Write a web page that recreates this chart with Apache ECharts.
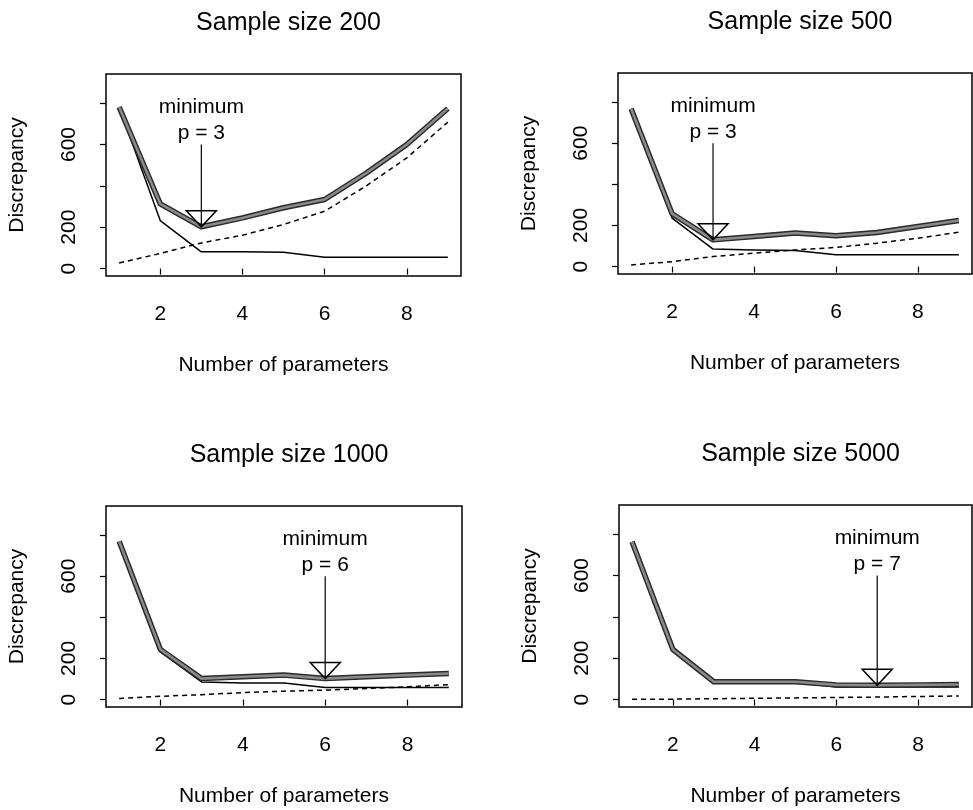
<!DOCTYPE html>
<html>
<head>
    <meta charset="UTF-8">
    <title>Discrepancy vs number of parameters</title>
    <script src="https://cdn.jsdelivr.net/npm/echarts@6/dist/echarts.min.js"></script>
    <style>
        body { margin: 0; background: #fff; }
    </style>
</head>
<body>
    <div id="chart" style="width:973px; height:810px;"></div>
    <script>
        // number of parameters (x)
        var params = [1, 2, 3, 4, 5, 6, 7, 8, 9];
        var sampleSizes = [200, 500, 1000, 5000];

        // overall discrepancy (thick line)
        var overall200 = [781, 313, 202, 245, 294, 334, 460, 600, 774];
        var overall500 = [767, 257, 130, 146, 163, 150, 166, 195, 224];
        var overall1000 = [769, 244, 102, 111, 119, 102, 111, 119, 127];
        var overall5000 = [763, 242, 86, 86, 86, 71, 69, 71, 73];

        // discrepancy due to approximation (thin solid line)
        var approx200 = [781, 232, 81, 81, 79, 55, 55, 55, 55];
        var approx500 = [767, 236, 85, 81, 78, 57, 57, 57, 57];
        var approx1000 = [769, 232, 86, 81, 81, 59, 59, 59, 59];
        var approx5000 = [763, 239, 81, 81, 81, 61, 61, 61, 61];

        // discrepancy due to estimation (dashed line)
        var estim200 = [27, 73, 124, 161, 213, 277, 398, 535, 708];
        var estim500 = [8, 24, 49, 65, 81, 93, 114, 138, 167];
        var estim1000 = [5, 16, 24, 34, 41, 46, 54, 62, 73];
        var estim5000 = [1, 2, 4, 6, 8, 10, 12, 15, 17];

        // p at the minimum of the overall discrepancy
        var minP = [3, 3, 6, 7];

        var xTicks = [2, 4, 6, 8];
        var yTicks = [0, 200, 400, 600, 800];
        var yLabels = [0, 200, 600];

        var overall = [overall200, overall500, overall1000, overall5000];
        var approx = [approx200, approx500, approx1000, approx5000];
        var estim = [estim200, estim500, estim1000, estim5000];

        var FONT = '"Liberation Sans", Arial, Helvetica, sans-serif';

        var grids = [
            {left: 106, top: 74, width: 355, height: 202},
            {left: 618, top: 73, width: 354, height: 201},
            {left: 106, top: 506, width: 356, height: 201},
            {left: 619, top: 505, width: 353, height: 202}
        ];

        function pairs(ys) {
            return params.map(function (x, i) { return [x, ys[i]]; });
        }

        var titles = [], xAxes = [], yAxes = [], series = [];
        grids.forEach(function (g, k) {
            g.show = true;
            g.borderColor = '#000';
            g.borderWidth = 1.5;
            g.backgroundColor = 'transparent';
            titles.push({
                text: 'Sample size ' + sampleSizes[k],
                left: g.left + g.width / 2,
                top: g.top - 68,
                textAlign: 'center',
                textStyle: {fontFamily: FONT, fontSize: 25, fontWeight: 'normal', color: '#000'}
            });
            xAxes.push({
                gridIndex: k, type: 'value', min: 0.68, max: 9.32,
                name: 'Number of parameters', nameLocation: 'middle', nameGap: 79,
                nameTextStyle: {fontFamily: FONT, fontSize: 21, color: '#000'},
                axisLine: {show: false},
                splitLine: {show: false},
                axisTick: {show: true, length: 6, customValues: xTicks, lineStyle: {color: '#000', width: 1.2}},
                axisLabel: {customValues: xTicks, margin: 28, fontFamily: FONT, fontSize: 21, color: '#000'}
            });
            yAxes.push({
                gridIndex: k, type: 'value', min: -36, max: 941,
                name: 'Discrepancy', nameLocation: 'middle', nameGap: 78, nameRotate: 90,
                nameTextStyle: {fontFamily: FONT, fontSize: 21, color: '#000'},
                axisLine: {show: false},
                splitLine: {show: false},
                axisTick: {show: true, length: 6, customValues: yTicks, lineStyle: {color: '#000', width: 1.2}},
                axisLabel: {customValues: yLabels, rotate: 90, margin: 26, fontFamily: FONT, fontSize: 21, color: '#000'}
            });

            series.push({
                type: 'line', xAxisIndex: k, yAxisIndex: k, data: pairs(estim[k]),
                symbol: 'none', silent: true, z: 2,
                lineStyle: {color: '#000', width: 1.5, type: [5, 4]}
            });
            series.push({
                type: 'line', xAxisIndex: k, yAxisIndex: k, data: pairs(approx[k]),
                symbol: 'none', silent: true, z: 2,
                lineStyle: {color: '#000', width: 1.5}
            });
            series.push({
                type: 'line', xAxisIndex: k, yAxisIndex: k, data: pairs(overall[k]),
                symbol: 'none', silent: true, z: 3,
                lineStyle: {color: '#2a2a2a', width: 5.5, join: 'round'}
            });
            series.push({
                type: 'line', xAxisIndex: k, yAxisIndex: k, data: pairs(overall[k]),
                symbol: 'none', silent: true, z: 4,
                lineStyle: {color: '#8a8a8a', width: 2.6, join: 'round'}
            });

            // arrow pointing at the minimum, with its label
            var p = minP[k];
            series.push({
                type: 'custom', xAxisIndex: k, yAxisIndex: k, z: 5, silent: true,
                data: [[p, overall[k][p - 1]]],
                renderItem: function (params, api) {
                    var tip = api.coord([api.value(0), api.value(1)]);
                    var top = api.coord([api.value(0), 600]);
                    var lab1 = api.coord([api.value(0), 782]);
                    var lab2 = api.coord([api.value(0), 655]);
                    return {
                        type: 'group',
                        children: [
                            {type: 'line', shape: {x1: top[0], y1: top[1], x2: tip[0], y2: tip[1]},
                             style: {stroke: '#000', lineWidth: 1.2}},
                            {type: 'polygon', shape: {points: [[tip[0] - 15, tip[1] - 16], [tip[0] + 15, tip[1] - 16], [tip[0], tip[1]]]},
                             style: {stroke: '#000', fill: null, lineWidth: 1.5}},
                            {type: 'text', x: lab1[0], y: lab1[1],
                             style: {text: 'minimum', font: '21px ' + FONT, fill: '#000', align: 'center', verticalAlign: 'middle'}},
                            {type: 'text', x: lab2[0], y: lab2[1],
                             style: {text: 'p = ' + api.value(0), font: '21px ' + FONT, fill: '#000', align: 'center', verticalAlign: 'middle'}}
                        ]
                    };
                }
            });
        });

        var chart = echarts.init(document.getElementById('chart'), null, {renderer: 'canvas'});
        chart.setOption({
            animation: false,
            backgroundColor: '#fff',
            title: titles,
            grid: grids,
            xAxis: xAxes,
            yAxis: yAxes,
            series: series
        });
    </script>
</body>
</html>
